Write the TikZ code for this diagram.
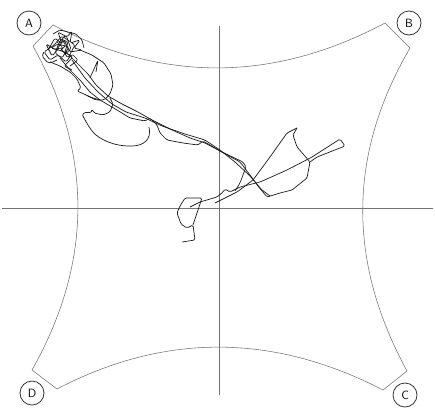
\documentclass[tikz,border=0pt]{standalone}
\usepackage{tikz}
\usetikzlibrary{arrows}

\begin{document}
\begin{tikzpicture}[x=1pt,y=-1pt,font=\sffamily\fontsize{12}{12}\selectfont,
    corner/.style={draw=black!80,circle,minimum size=24pt,inner sep=0pt,line width=0.8pt},
    rim/.style={draw=black!55,line width=0.55pt},
    track/.style={draw=black!90,line width=0.7pt,line join=round,rounded corners=1.5pt}]
    \useasboundingbox (0,0) rectangle (435,408);
    % corner labels
    \node[corner] (a) at (29,23) {A};
    \node[corner] (b) at (409,23) {B};
    \node[corner] (c) at (405,395) {C};
    \node[corner] (d) at (32,393) {D};
    % arena outline
    \draw[rim] (53,25) .. controls (164,83) and (274,82) .. (385,23) -- (410,48)
        .. controls (348,154) and (347,261) .. (407,371) -- (383,390)
        .. controls (273,333) and (164,333) .. (57,389) -- (32,370)
        .. controls (93,262) and (93,154) .. (33,46) -- cycle;
    % cross hair
    \coordinate (top) at (219,26);
    \coordinate (bottom) at (219,395);
    \coordinate (left) at (2,208);
    \coordinate (right) at (433,208);
    \draw[rim] (top) -- (bottom);
    \draw[rim] (left) -- (right);
    % path of the animal
    \draw[track] (48,50) -- (55,38) -- (62,44) -- (58,32) -- (67,37) -- (72,31) -- (70,43)
        -- (80,40) -- (74,48) -- (82,50) -- (70,52) -- (64,40) -- (56,50) -- (46,44)
        -- (52,56) -- (60,47) -- (68,58) -- (75,45) -- (62,36) -- (54,45) -- (44,52)
        -- (50,60) -- (58,55) -- (66,62) -- (72,54) -- (78,60) -- (70,66);
    \draw[track] (57,42) -- (63,48) -- (59,52) -- (66,45) -- (61,39) -- (68,42) -- (64,55)
        -- (71,49) -- (66,35) -- (60,41) -- (55,53) -- (62,58) -- (69,47) -- (58,44)
        -- (51,48) -- (62,51) -- (73,57) -- (64,66) -- (72,70);
    \draw[track] (44,52) -- (42,56) -- (48,63) -- (53,62) -- (57,60);
    \draw[track] (53,34) -- (60,30) -- (68,32) -- (76,34) -- (82,40) -- (84,48);
    \draw[track] (50,62) -- (60,66) -- (70,72) -- (77,79) -- (81,88) -- (77,91)
        -- (84,94) -- (90,97) -- (100,100);
    \draw[track] (80,50) -- (92,55) -- (104,63) -- (111,74) -- (113,85) -- (110,94)
        -- (104,100) -- (96,100) -- (88,96);
    \draw[track] (90,78) -- (98,60) -- (96,72);
    \draw[track] (66,52) -- (78,64) -- (88,74) -- (96,85) -- (108,96) -- (122,104)
        -- (138,112) -- (152,120) -- (172,130) -- (190,138) -- (205,143) -- (222,152)
        -- (240,162) -- (250,175) -- (258,186) -- (267,197) -- (280,193) -- (292,190)
        -- (307,178) -- (310,162) -- (304,155) -- (297,147) -- (293,135) -- (297,128);
    \draw[track] (60,58) -- (70,70) -- (80,80) -- (90,92) -- (100,100) -- (117,110)
        -- (130,118) -- (145,121) -- (150,118) -- (157,125) -- (160,133) -- (167,140)
        -- (183,143) -- (198,145) -- (203,141) -- (222,152) -- (243,162) -- (246,167)
        -- (240,183) -- (235,191);
    \draw[track] (72,60) -- (85,78) -- (98,92) -- (112,104) -- (126,112) -- (145,118)
        -- (162,126) -- (185,134) -- (205,140) -- (220,150) -- (235,162) -- (250,176)
        -- (262,190) -- (270,196);
    \draw[track] (149,127) .. controls (152,140) and (143,146) .. (130,146)
        .. controls (115,146) and (100,140) .. (92,131)
        .. controls (87,124) and (84,118) .. (82,114)
        -- (87,112) -- (91,113) -- (92,109) -- (94,113) -- (103,115) -- (110,112)
        -- (113,104) -- (110,98);
    \draw[track] (182,242) -- (195,240) -- (193,225) -- (187,228) -- (181,224) -- (177,213)
        -- (180,206) -- (185,198) -- (202,198) -- (197,213) -- (193,225);
    \draw[track] (190,207) -- (200,202) -- (217,197) -- (223,192) -- (225,189) -- (230,192)
        -- (240,187) -- (260,182) -- (287,170) -- (312,157) -- (340,139) -- (345,146)
        -- (317,157) -- (310,162);
    \draw[track] (215,203) -- (237,192) -- (253,180) -- (270,157) -- (287,133) -- (297,128);
\end{tikzpicture}
\end{document}
